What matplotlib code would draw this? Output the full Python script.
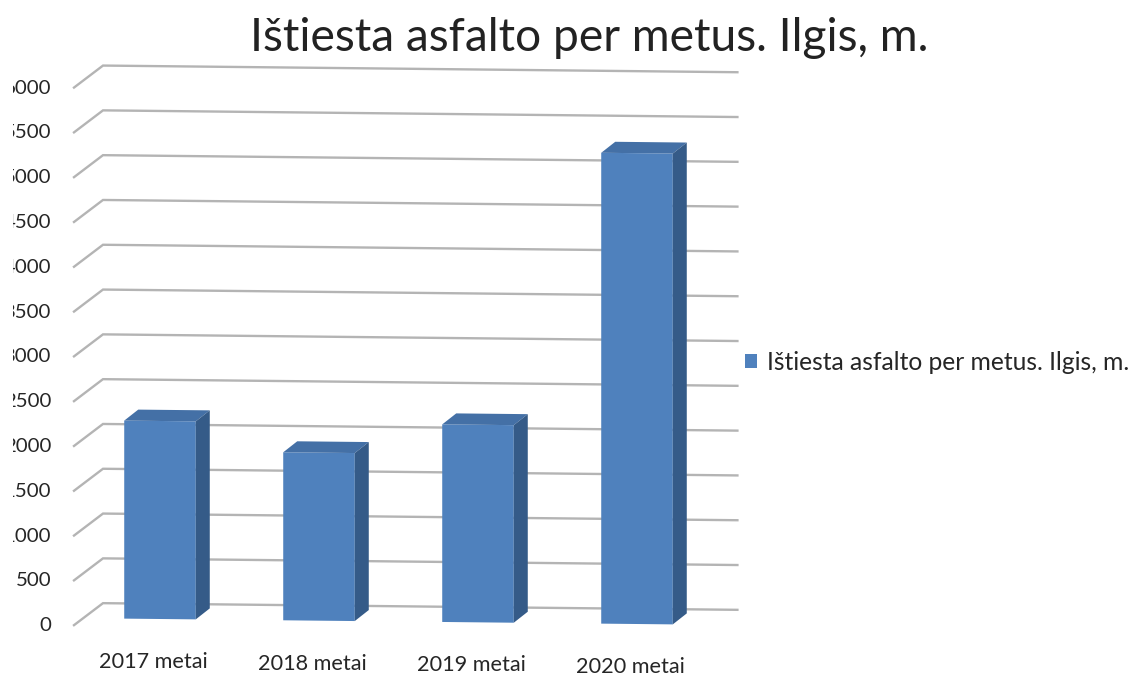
import numpy as np
import matplotlib
matplotlib.use("Agg")
import matplotlib.pyplot as plt
from matplotlib.patches import Rectangle
from matplotlib.transforms import Affine2D

title = "Ištiesta asfalto per metus. Ilgis, m."
categories = ["2017 metai", "2018 metai", "2019 metai", "2020 metai"]
values = [2210, 1875, 2205, 5255]
value_ticks = [0, 500, 1000, 1500, 2000, 2500, 3000, 3500, 4000, 4500, 5000, 5500, 6000]

plt.rcParams["font.family"] = ["Lato", "DejaVu Sans"]

FACE = "#4f81bd"
TOP = "#4470a6"
SIDE = "#355b88"
GRID = "#b4b4b4"
TEXT = "#262626"

fig = plt.figure(figsize=(11.34, 6.75), dpi=100)
ax = fig.add_axes([0, 0, 1, 1])
ax.set_xlim(0, 1134)
ax.set_ylim(675, 0)
ax.axis("off")

# category/value -> picture position, the original is slightly tilted and has a fake 3D depth
proj = Affine2D(np.array([[159.0, 0.0, 160.0], [1.67, -0.0896, 619.0], [0, 0, 1]]))
wall = proj + Affine2D().translate(22.5, -15)
front = proj + Affine2D().translate(-6.5, 7)

# gridlines with the short floor segment on the left
for v in value_ticks:
    p_back = wall.transform([[-0.5, v], [3.49, v]])
    p_front = front.transform([[-0.5, v]])
    ax.plot([p_front[0, 0], p_back[0, 0], p_back[1, 0]],
            [p_front[0, 1], p_back[0, 1], p_back[1, 1]],
            color=GRID, lw=1.7, solid_joinstyle="miter", zorder=1)

# value labels are cut off by the left image edge in the original
clip = Rectangle((13, 0), 1121, 675, transform=ax.transData)
for v in value_ticks:
    lx, ly = front.transform([[-0.5, v]])[0]
    t = ax.text(lx - 23, ly + 0.5, str(v), ha="right", va="center", fontsize=14.7, color=TEXT)
    t.set_clip_path(clip)
    t.set_clip_on(True)

# bars
width = 0.45
dx, dy = 14, -11
x_pos = np.arange(len(categories))
ax.bar(x_pos, values, width=width, color=FACE, linewidth=0, transform=proj + ax.transData,
       zorder=3, label=title)
for c, v in zip(x_pos, values):
    (x0b, y0b), (x1b, y1b), (x0t, y0), (x1t, y1) = proj.transform(
        [[c - width / 2, 0], [c + width / 2, 0], [c - width / 2, v], [c + width / 2, v]])
    ax.fill([x0t, x1t, x1t + dx, x0t + dx], [y0, y1, y1 + dy, y0 + dy], color=TOP, lw=0, zorder=3)
    ax.fill([x1b, x1t, x1t + dx, x1b + dx], [y1b, y1, y1 + dy, y1b + dy], color=SIDE, lw=0, zorder=3)

# category labels
for c, name in zip(x_pos, categories):
    lx, ly = proj.transform([[c, 0]])[0]
    ax.text(lx - 7, ly + 43, name, ha="center", va="center", fontsize=15.6, color=TEXT)

ax.text(589, 38, title, ha="center", va="center", fontsize=33.2, color="#222222")

leg = ax.legend(loc="center left", bbox_to_anchor=(745 / 1134, 1 - 362 / 675), frameon=False,
                fontsize=17.7, handlelength=0.5, handleheight=0.5, handletextpad=0.41,
                borderpad=0, borderaxespad=0, labelcolor=TEXT)

fig.savefig("out.png", dpi=100)
